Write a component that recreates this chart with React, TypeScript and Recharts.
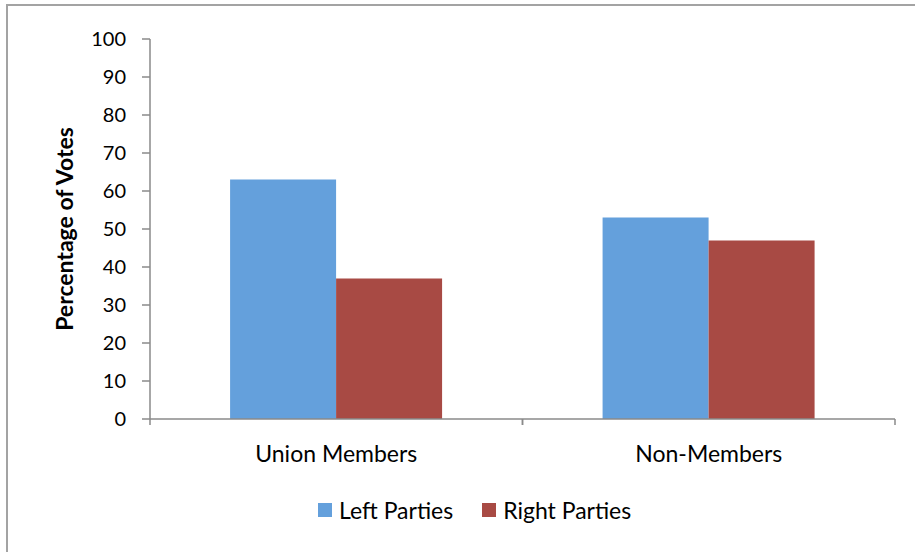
import { BarChart, Bar, XAxis, YAxis, Legend, Label } from "recharts";

const categories = ["Union Members", "Non-Members"];
const leftParties = [63, 53];
const rightParties = [37, 47];
const yTicks = [0, 10, 20, 30, 40, 50, 60, 70, 80, 90, 100];

const data = categories.map((name, i) => ({
  name,
  left: leftParties[i],
  right: rightParties[i],
}));

const FONT = "Lato, 'Open Sans', sans-serif";
const AXIS = "#8a8a8a";

// category label plus tick marks on the band boundaries (Excel style)
function CategoryTick(props: any) {
  const { x, y, payload, width, visibleTicksCount } = props;
  const half = width / visibleTicksCount / 2;
  return (
    <g>
      <line x1={x - half} y1={y - 8} x2={x - half} y2={y - 2} stroke={AXIS} strokeWidth={1.5} />
      <line x1={x + half} y1={y - 8} x2={x + half} y2={y - 2} stroke={AXIS} strokeWidth={1.5} />
      <text x={x} y={y + 35} textAnchor="middle" fontSize={23} fontFamily={FONT} fill="#000">
        {payload.value}
      </text>
    </g>
  );
}

function LegendContent(props: any) {
  const { payload } = props;
  return (
    <div style={{ display: "flex", alignItems: "center", fontFamily: FONT, fontSize: 23 }}>
      {payload.map((p: any) => (
        <div key={p.value} style={{ display: "flex", alignItems: "center", marginRight: 29 }}>
          <span style={{ width: 14, height: 14, background: p.color, display: "inline-block", marginRight: 7 }} />
          <span>{p.value}</span>
        </div>
      ))}
    </div>
  );
}

export default function App() {
  return (
    <div style={{ position: "absolute", left: 0, top: 0, width: 915, height: 552, overflow: "hidden", background: "#fff" }}>
      <div
        style={{
          position: "absolute",
          left: 6,
          top: 4,
          width: 1000,
          height: 1000,
          border: "2px solid #a3a3a3",
        }}
      />
      <div style={{ position: "absolute", left: 0, top: 0 }}>
        <BarChart
          width={915}
          height={552}
          data={data}
          margin={{ top: 39, right: 20, left: 0, bottom: 0 }}
          barCategoryGap="21.5%"
          barGap={0}
        >
          <XAxis
            dataKey="name"
            tick={<CategoryTick />}
            tickLine={false}
            tickSize={8}
            tickMargin={0}
            axisLine={{ stroke: AXIS, strokeWidth: 1.5 }}
            height={105}
            interval={0}
          />
          <YAxis
            width={150}
            domain={[0, 100]}
            ticks={yTicks}
            interval={0}
            tickSize={8}
            tickMargin={16}
            tick={{ fontSize: 20, fontFamily: FONT, fill: "#000" }}
            tickLine={{ stroke: AXIS, strokeWidth: 1.5 }}
            axisLine={{ stroke: AXIS, strokeWidth: 1.5 }}
          >
            <Label
              value="Percentage of Votes"
              angle={-90}
              position="center"
              dx={-10}
              style={{ fontSize: 23, fontWeight: "bold", fontFamily: FONT, fill: "#000", textAnchor: "middle" }}
            />
          </YAxis>
          <Legend
            content={<LegendContent />}
            wrapperStyle={{ position: "absolute", left: 318, top: 496, width: "auto", height: 28 }}
          />
          <Bar dataKey="left" name="Left Parties" fill="#64A0DC" isAnimationActive={false} />
          <Bar dataKey="right" name="Right Parties" fill="#A84A44" isAnimationActive={false} />
        </BarChart>
      </div>
    </div>
  );
}
